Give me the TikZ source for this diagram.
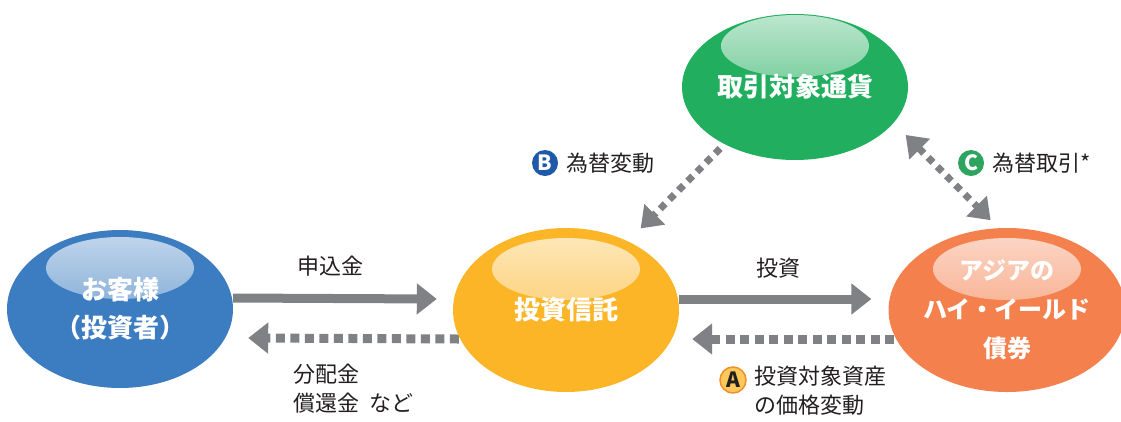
\documentclass[tikz,border=0pt]{standalone}
\usepackage{fontspec}
\setmainfont{Noto Sans CJK JP}
\usetikzlibrary{shapes.geometric,arrows.meta,backgrounds}
\definecolor{kyakublue}{RGB}{60,124,192}
\definecolor{toshinyellow}{RGB}{251,181,38}
\definecolor{tsukagreen}{RGB}{33,174,94}
\definecolor{saikenorange}{RGB}{244,128,78}
\definecolor{arrowgray}{RGB}{128,129,133}
\definecolor{labeltext}{RGB}{35,31,32}
\definecolor{badgeblue}{RGB}{30,90,168}
\definecolor{badgegreen}{RGB}{46,165,95}
\definecolor{badgeyellow}{RGB}{253,200,90}
\definecolor{badgeedge}{RGB}{240,144,42}
\tikzset{
  blob/.style={ellipse, fill=#1, inner sep=0pt, text=white, align=center,
    font=\bfseries\fontsize{26}{38}\selectfont,
    path picture={\shade[top color=#1!30!white, bottom color=#1!92!white]
      ([yshift=41pt]path picture bounding box.center) ellipse [x radius=74pt, y radius=31pt];}},
  flow/.style={line width=9pt, draw=arrowgray, -{Triangle[length=20pt,width=30pt]}},
  back/.style={flow, dash pattern=on 9pt off 5.5pt},
  fx/.style={line width=7pt, draw=arrowgray, dash pattern=on 7pt off 6pt},
  badge/.style={circle, minimum size=26pt, inner sep=0pt, font=\bfseries\fontsize{21}{21}\selectfont},
  lbl/.style={font=\fontsize{22}{29}\selectfont, text=labeltext, align=left, inner sep=0pt},
}
\begin{document}
\begin{tikzpicture}[x=1pt,y=-1pt]
\useasboundingbox (0,0) rectangle (1121,421);
% the four places the money goes
\node[blob=kyakublue, minimum width=226pt, minimum height=158pt] (kyaku) at (120,309) {お客様\\（投資者）};
\node[blob=toshinyellow, minimum width=226pt, minimum height=164pt] (toshin) at (566,310) {投資信託};
\node[blob=tsukagreen, minimum width=226pt, minimum height=146pt] (tsuka) at (795,87) {取引対象通貨};
\node[blob=saikenorange, minimum width=220pt, minimum height=164pt,
  font=\bfseries\fontsize{24}{39}\selectfont] (saiken) at (1007,310) {アジアの\\ハイ・イールド\\債券};
% flows, kept behind the ellipses
\begin{scope}[on background layer]
\draw[flow] ([yshift=11pt]kyaku.east) -- ([yshift=11pt,xshift=-16pt]toshin.west);
\draw[back] ([yshift=-29pt,xshift=6pt]toshin.west) -- ([yshift=-29pt,xshift=15pt]kyaku.east);
\draw[flow] ([yshift=11pt]toshin.east) -- ([yshift=11pt,xshift=-17pt]saiken.west);
\draw[back] ([yshift=-29pt,xshift=6pt]saiken.west) -- ([yshift=-29pt,xshift=13pt]toshin.east);
\draw[fx, -{Triangle[length=20pt,width=28pt]}, shorten <=6pt, shorten >=18pt] (tsuka.-141) -- (toshin.48);
\draw[fx, {Triangle[length=20pt,width=28pt]}-{Triangle[length=20pt,width=28pt]}, shorten <=17pt, shorten >=11pt] (tsuka.-20) -- (saiken.96);
\end{scope}
% labels
\node[lbl, anchor=center] (moushikomi) at (330,266) {申込金};
\node[lbl, anchor=north west] (bunpai) at (293,364) {分配金\\償還金\ \ など};
\node[lbl, anchor=center] (toushi) at (778,268) {投資};
\node[badge, fill=badgeblue, text=white] (bB) at (545,163) {B};
\node[lbl, anchor=west] (kawaseB) at (566,163) {為替変動};
\node[badge, fill=badgegreen, text=white] (bC) at (971,163) {C};
\node[lbl, anchor=west] (kawaseC) at (992,163) {為替取引*};
\node[badge, fill=badgeyellow, draw=badgeedge, line width=1.5pt, text=labeltext] (bA) at (733,380) {A};
\node[lbl, anchor=north west] (kakaku) at (754,366) {投資対象資産\\の価格変動};
\end{tikzpicture}
\end{document}
